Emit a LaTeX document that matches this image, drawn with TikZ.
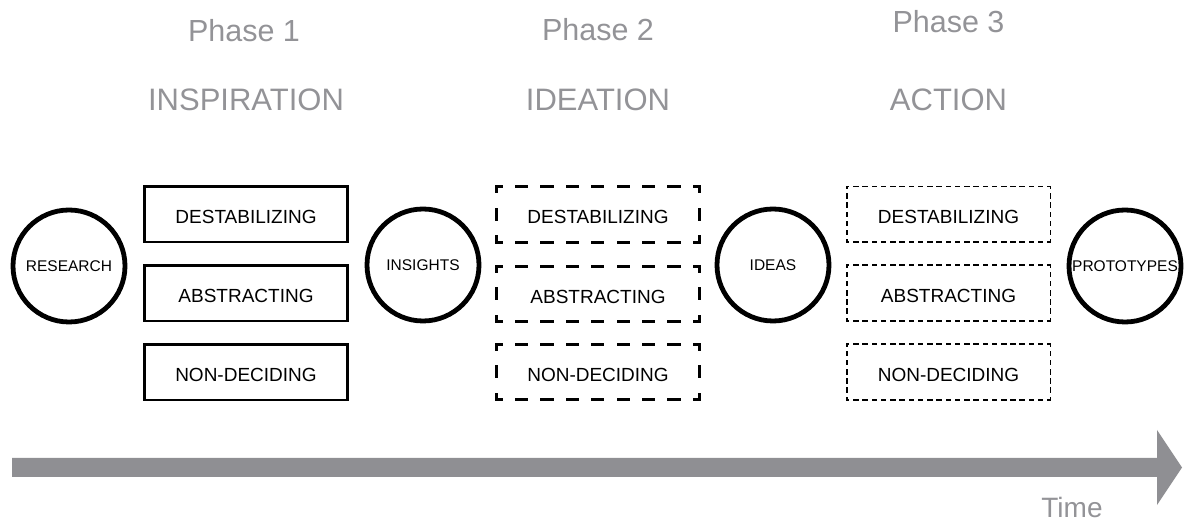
\documentclass[tikz,border=0pt]{standalone}
\usepackage{fontspec}
\setmainfont{Liberation Sans}
\definecolor{phasegray}{RGB}{147,147,151}
\definecolor{arrowgray}{RGB}{143,143,147}
\tikzset{
  stage/.style={circle, draw=black, line width=4.8pt, minimum size=112pt,
    inner sep=0pt, font=\fontsize{15.5}{15.5}\selectfont},
  boxtext/.style={rectangle, inner sep=0pt, font=\fontsize{19}{19}\selectfont,
    text height=18.6pt, text depth=0pt},
  solidbox/.style={boxtext, draw=black, line width=2.6pt,
    minimum width=203.4pt, minimum height=55.4pt},
  boldbox/.style={boxtext, minimum width=203pt, minimum height=55pt},
  lightbox/.style={boxtext, minimum width=203.3pt, minimum height=55.3pt},
  % thick dashes, pattern fitted to each side so the corners close
  boldh/.style={line width=3.2pt, line cap=rect, dash pattern=on 10pt off 15.375pt, dash phase=5pt},
  boldv/.style={line width=3.2pt, line cap=rect, dash pattern=on 10pt off 17.5pt, dash phase=5pt},
  % fine dashes
  lighth/.style={line width=1.7pt, line cap=rect, dash pattern=on 3.8pt off 5.441pt, dash phase=1.9pt},
  lightv/.style={line width=1.7pt, line cap=rect, dash pattern=on 3.8pt off 5.417pt, dash phase=1.9pt},
  phasenum/.style={anchor=base, text=phasegray, font=\fontsize{30.5}{30.5}\selectfont},
  phasename/.style={anchor=base, text=phasegray, font=\fontsize{31}{31}\selectfont},
}
\newcommand\boldframe[1]{%
  \draw[boldh] (#1.north west) -- (#1.north east);
  \draw[boldh] (#1.south west) -- (#1.south east);
  \draw[boldv] (#1.north west) -- (#1.south west);
  \draw[boldv] (#1.north east) -- (#1.south east);}
\newcommand\lightframe[1]{%
  \draw[lighth] (#1.north west) -- (#1.north east);
  \draw[lighth] (#1.south west) -- (#1.south east);
  \draw[lightv] (#1.north west) -- (#1.south west);
  \draw[lightv] (#1.north east) -- (#1.south east);}
\begin{document}
\begin{tikzpicture}[x=1pt, y=-1pt]
\useasboundingbox (0,0) rectangle (1184,526);

% phase headings
\node[phasenum]  (h1) at (244,42)  {Phase 1};
\node[phasenum]  (h2) at (598,41)  {Phase 2};
\node[phasenum]  (h3) at (948.5,33) {Phase 3};
\node[phasename] (t1) at (246,111) {INSPIRATION};
\node[phasename] (t2) at (598,111) {IDEATION};
\node[phasename] (t3) at (948.5,111) {ACTION};

% stages
\node[stage] (research)   at (69,266)   {RESEARCH};
\node[stage] (insights)   at (423,265)  {INSIGHTS};
\node[stage] (ideas)      at (773,265)  {IDEAS};
\node[stage] (prototypes) at (1125,266) {PROTOTYPES};

% phase 1: solid boxes
\node[solidbox] (a1) at (246,214.5) {DESTABILIZING};
\node[solidbox] (a2) at (246,293.5) {ABSTRACTING};
\node[solidbox] (a3) at (246,372.5) {NON-DECIDING};

% phase 2: heavy dashed boxes
\node[boldbox] (b1) at (598,214.5) {DESTABILIZING};
\node[boldbox] (b2) at (598,294)   {ABSTRACTING};
\node[boldbox] (b3) at (598,372)   {NON-DECIDING};
\boldframe{b1}\boldframe{b2}\boldframe{b3}

% phase 3: fine dashed boxes
\node[lightbox] (c1) at (948.5,214.5) {DESTABILIZING};
\node[lightbox] (c2) at (948.5,293)   {ABSTRACTING};
\node[lightbox] (c3) at (948.5,372)   {NON-DECIDING};
\lightframe{c1}\lightframe{c2}\lightframe{c3}

% time axis
\fill[arrowgray] (12,458) -- (1157,458) -- (1157,430) -- (1182,467.5)
  -- (1157,505) -- (1157,477) -- (12,477) -- cycle;
\node[anchor=base, text=phasegray, font=\fontsize{28}{28}\selectfont] (time) at (1072,517) {Time};
\end{tikzpicture}
\end{document}
